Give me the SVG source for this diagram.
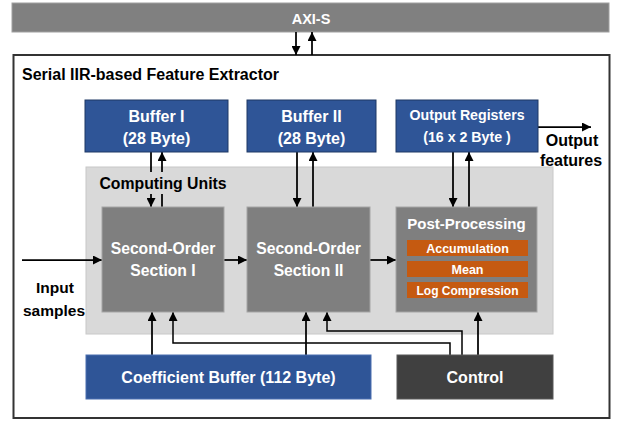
<svg xmlns="http://www.w3.org/2000/svg" width="618" height="422" viewBox="0 0 618 422">
<defs>
<marker id="ah" viewBox="0 0 10 10" refX="10" refY="5" markerWidth="9" markerHeight="9" markerUnits="userSpaceOnUse" orient="auto">
<path d="M0,0 L10,5 L0,10 z" fill="#000"/>
</marker>
<style>
text{font-family:"Liberation Sans",Arial,sans-serif;font-weight:bold;text-anchor:middle}
.w{fill:#fff}
.k{fill:#000}
.blue{fill:#2F5597;stroke:#1F3864;stroke-width:1}
.gray{fill:#7F7F7F;stroke:#A6A6A6;stroke-width:1}
.orange{fill:#C55A11}
.dark{fill:#404040;stroke:#595959;stroke-width:1}
.c{fill:none;stroke:#000;stroke-width:1.75}
.a{marker-end:url(#ah)}
</style>
</defs>
<rect width="618" height="422" fill="#fff"/>

<g id="axi">
<rect x="12" y="3" width="597" height="29" fill="#808080" stroke="#A0A0A0" stroke-width="1"/>
<text x="311" y="24" class="w" font-size="14.5">AXI-S</text>
</g>

<g id="extractor">
<rect x="13.5" y="55" width="596" height="363" fill="#fff" stroke="#333" stroke-width="2"/>
<text x="22" y="80" class="k" font-size="16" style="text-anchor:start">Serial IIR-based Feature Extractor</text>
</g>

<g id="computing-units">
<rect x="86" y="167" width="467" height="167" fill="#D9D9D9" stroke="#C8C8C8" stroke-width="1"/>
</g>

<g id="connectors">
<line class="c a" x1="296" y1="32" x2="296" y2="55"/>
<line class="c a" x1="312" y1="55" x2="312" y2="32"/>
<line class="c a" x1="151" y1="152" x2="151" y2="207"/>
<line class="c a" x1="162" y1="207" x2="162" y2="152"/>
<line class="c a" x1="297" y1="152" x2="297" y2="207"/>
<line class="c a" x1="313" y1="207" x2="313" y2="152"/>
<line class="c a" x1="453" y1="152" x2="453" y2="207"/>
<line class="c a" x1="469" y1="207" x2="469" y2="152"/>
<line class="c a" x1="538" y1="127" x2="591" y2="127"/>
<line class="c a" x1="22" y1="260" x2="102" y2="260"/>
<line class="c a" x1="224" y1="260" x2="247" y2="260"/>
<line class="c a" x1="370" y1="260" x2="396" y2="260"/>
<line class="c a" x1="152" y1="355" x2="152" y2="312"/>
<line class="c a" x1="306" y1="355" x2="306" y2="312"/>
<polyline class="c a" points="450,355 450,343 173,343 173,312" style="stroke-width:1.5"/>
<polyline class="c a" points="462,355 462,331 327,331 327,312" style="stroke-width:1.5"/>
<line class="c a" x1="478" y1="355" x2="478" y2="312"/>
</g>

<g id="computing-units-label">
<rect x="94" y="172" width="138" height="22" fill="#D9D9D9"/>
<text x="163" y="189" class="k" font-size="15.8">Computing Units</text>
</g>

<g id="buffer-1">
<rect class="blue" x="85" y="100" width="143" height="52"/>
<text x="156.5" y="122" class="w" font-size="16">Buffer I</text>
<text x="156.5" y="144" class="w" font-size="16">(28 Byte)</text>
</g>

<g id="buffer-2">
<rect class="blue" x="247" y="100" width="129" height="52"/>
<text x="311.5" y="122" class="w" font-size="16">Buffer II</text>
<text x="311.5" y="144" class="w" font-size="16">(28 Byte)</text>
</g>

<g id="output-registers">
<rect class="blue" x="396" y="100" width="142" height="52"/>
<text x="467" y="120" class="w" font-size="14.2">Output Registers</text>
<text x="467" y="142" class="w" font-size="14.2">(16 x 2 Byte )</text>
</g>

<g id="output-label">
<text x="572" y="146" class="k" font-size="16">Output</text>
<text x="571" y="166" class="k" font-size="16">features</text>
</g>

<g id="input-label">
<text x="55" y="293" class="k" font-size="15.5">Input</text>
<text x="54" y="316" class="k" font-size="15.5">samples</text>
</g>

<g id="sos-1">
<rect class="gray" x="102" y="207" width="122" height="105"/>
<text x="163" y="254" class="w" font-size="15.7">Second-Order</text>
<text x="163" y="276" class="w" font-size="15.7">Section I</text>
</g>

<g id="sos-2">
<rect class="gray" x="247" y="207" width="123" height="105"/>
<text x="308.5" y="254" class="w" font-size="15.7">Second-Order</text>
<text x="308.5" y="276" class="w" font-size="15.7">Section II</text>
</g>

<g id="post-processing">
<rect class="gray" x="396" y="207" width="141" height="105"/>
<text x="466.5" y="229" class="w" font-size="15">Post-Processing</text>
<rect class="orange" x="407" y="240" width="121" height="16"/>
<text x="467.5" y="252.5" class="w" font-size="12.5">Accumulation</text>
<rect class="orange" x="407" y="261" width="121" height="16"/>
<text x="467.5" y="273.5" class="w" font-size="12.5">Mean</text>
<rect class="orange" x="407" y="282" width="121" height="16"/>
<text x="467.5" y="294.5" class="w" font-size="12">Log Compression</text>
</g>

<g id="coefficient-buffer">
<rect class="blue" x="86" y="355" width="285" height="44" style="stroke:#4A6FB0"/>
<text x="228.5" y="383" class="w" font-size="16">Coefficient Buffer (112 Byte)</text>
</g>

<g id="control">
<rect class="dark" x="397" y="355" width="156" height="44"/>
<text x="475" y="383" class="w" font-size="16">Control</text>
</g>
</svg>
